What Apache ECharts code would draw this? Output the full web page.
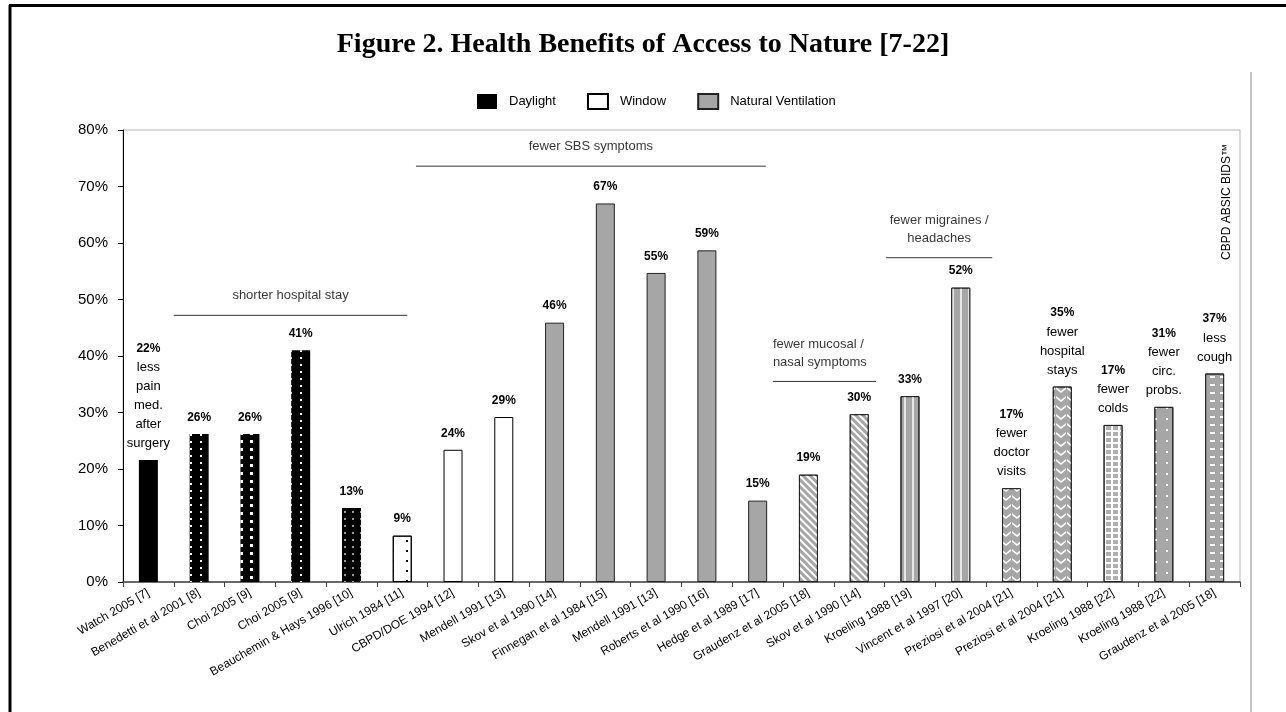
<!DOCTYPE html>
<html>
<head>
<meta charset="utf-8">
<script src="https://cdn.jsdelivr.net/npm/echarts@6/dist/echarts.min.js"></script>
<style>
html,body{margin:0;padding:0;background:#fff;}
#chart{width:1286px;height:712px;}
</style>
</head>
<body>
<div id="chart"></div>
<script>
// ---------------- DATA ----------------
const categories = [
  'Watch 2005 [7]', 'Benedetti et al 2001 [8]', 'Choi 2005 [9]', 'Choi 2005 [9]',
  'Beauchemin & Hays 1996 [10]', 'Ulrich 1984 [11]', 'CBPD/DOE 1994 [12]', 'Mendell 1991 [13]',
  'Skov et al 1990 [14]', 'Finnegan et al 1984 [15]', 'Mendell 1991 [13]', 'Roberts et al 1990 [16]',
  'Hedge et al 1989 [17]', 'Graudenz et al 2005 [18]', 'Skov et al 1990 [14]', 'Kroeling 1988 [19]',
  'Vincent et al 1997 [20]', 'Preziosi et al 2004 [21]', 'Preziosi et al 2004 [21]', 'Kroeling 1988 [22]',
  'Kroeling 1988 [22]', 'Graudenz et al 2005 [18]'
];
const values = [21.6, 26.2, 26.2, 41.0, 13.1, 8.2, 23.4, 29.2, 45.9, 67.0, 54.7, 58.7,
                14.4, 19.0, 29.7, 32.9, 52.1, 16.6, 34.6, 27.8, 31.0, 36.9];
const percentLabels = ['22%','26%','26%','41%','13%','9%','24%','29%','46%','67%','55%','59%',
                       '15%','19%','30%','33%','52%','17%','35%','17%','31%','37%'];
const notes = ['less\npain\nmed.\nafter\nsurgery','','','','','','','','','','','',
               '','','','','','fewer\ndoctor\nvisits','fewer\nhospital\nstays','fewer\ncolds',
               'fewer\ncirc.\nprobs.','less\ncough'];
const seriesNames = ['Daylight', 'Window', 'Natural Ventilation'];
const seriesOf = ['Daylight','Daylight','Daylight','Daylight','Daylight',
                  'Window','Window','Window',
                  'Natural Ventilation','Natural Ventilation','Natural Ventilation','Natural Ventilation',
                  'Natural Ventilation','Natural Ventilation','Natural Ventilation','Natural Ventilation',
                  'Natural Ventilation','Natural Ventilation','Natural Ventilation','Natural Ventilation',
                  'Natural Ventilation','Natural Ventilation'];
// group brackets (x in category units, y in %)
const groupTexts = ['shorter hospital stay', 'fewer SBS symptoms', 'fewer mucosal /\nnasal symptoms', 'fewer migraines /\nheadaches'];
const groupFrom = [1.0, 5.77, 12.8, 15.03];
const groupTo = [5.6, 12.66, 14.83, 17.12];
const groupLevel = [47.2, 73.6, 35.5, 57.4];
const groupAlign = ['center', 'center', 'left', 'center'];
const yTicks = [0, 10, 20, 30, 40, 50, 60, 70, 80];

// ---------------- STYLES ----------------
const FONT = 'Liberation Sans, Arial, sans-serif';
const GRAY = '#a6a6a6';
const baseStyle = {
  'Daylight': {color: '#000', borderColor: '#000', borderWidth: 0},
  'Window': {color: '#fff', borderColor: '#000', borderWidth: 1},
  'Natural Ventilation': {color: GRAY, borderColor: '#222', borderWidth: 1}
};
const decals = {
  1: {symbol: 'rect', symbolSize: 1, color: '#fff', dashArrayX: [2, 8], dashArrayY: [2, 5]},
  2: {symbol: 'rect', symbolSize: 1, color: '#fff', dashArrayX: [3, 7], dashArrayY: [3, 5]},
  3: {symbol: 'rect', symbolSize: 1, color: '#fff', dashArrayX: [2, 8], dashArrayY: [2, 5]},
  4: {symbol: 'rect', symbolSize: 1, color: '#999', dashArrayX: [2, 6], dashArrayY: [2, 5]},
  5: {symbol: 'rect', symbolSize: 1, color: '#000', dashArrayX: [2, 12], dashArrayY: [2, 8]},
  13: {symbol: 'rect', symbolSize: 1, color: '#fff', dashArrayX: [1, 0], dashArrayY: [2, 3], rotation: Math.PI / 4},
  14: {symbol: 'rect', symbolSize: 1, color: '#fff', dashArrayX: [1, 0], dashArrayY: [2, 3], rotation: Math.PI / 4},
  15: {symbol: 'rect', symbolSize: 1, color: '#e6e6e6', dashArrayX: [2, 6], dashArrayY: [1, 0]},
  16: {symbol: 'rect', symbolSize: 1, color: '#e6e6e6', dashArrayX: [2, 6], dashArrayY: [1, 0]},
  17: {symbol: 'path://M0,0L5,4L10,0L10,2L5,6L0,2Z', symbolSize: 1, color: '#fff', dashArrayX: [10, 0.01], dashArrayY: [6, 3]},
  18: {symbol: 'path://M0,0L5,4L10,0L10,2L5,6L0,2Z', symbolSize: 1, color: '#fff', dashArrayX: [10, 0.01], dashArrayY: [6, 3]},
  20: {symbol: 'rect', symbolSize: 1, color: '#fff', dashArrayX: [1.5, 9], dashArrayY: [2, 9]},
  21: {symbol: 'rect', symbolSize: 1, color: '#fff', dashArrayX: [5, 5], dashArrayY: [2, 6]}
};
const specialColor = {19: '#fff'};
const gridDecal19 = {symbol: 'rect', symbolSize: 1, color: '#b0b0b0', dashArrayX: [5, 2], dashArrayY: [4, 2]};

function itemStyleFor(i) {
  const s = Object.assign({}, baseStyle[seriesOf[i]]);
  if (decals[i]) s.decal = decals[i];
  if (i === 19) { s.color = specialColor[19]; s.decal = gridDecal19; }
  return s;
}

function labelFormatter(p) {
  const i = p.dataIndex;
  let s = '{p|' + percentLabels[i] + '}';
  if (notes[i]) s += '\n' + notes[i].split('\n').map(t => '{n|' + t + '}').join('\n');
  return s;
}

const barSeries = seriesNames.map(name => ({
  name: name,
  type: 'bar',
  barWidth: 19,
  barGap: '-100%',
  xAxisIndex: 0,
  yAxisIndex: 0,
  itemStyle: Object.assign({}, baseStyle[name]),
  label: {
    show: true, position: 'top', distance: 7, formatter: labelFormatter,
    rich: {
      p: {fontFamily: FONT, fontWeight: 'bold', fontSize: 12, lineHeight: 19, color: '#000', align: 'center'},
      n: {fontFamily: FONT, fontSize: 13, lineHeight: 19, color: '#000', align: 'center'}
    }
  },
  data: values.map((v, i) => seriesOf[i] === name ? {value: v, itemStyle: itemStyleFor(i)} : '-')
}));

const groupLineSeries = groupTexts.map((t, g) => ({
  type: 'line',
  xAxisIndex: 1, yAxisIndex: 0,
  symbol: 'none', silent: true,
  lineStyle: {color: '#333', width: 1},
  data: [[groupFrom[g], groupLevel[g]], [groupTo[g], groupLevel[g]]],
  z: 5
}));

const groupTextSeries = groupTexts.map((t, g) => ({
  type: 'scatter',
  xAxisIndex: 1, yAxisIndex: 0,
  symbolSize: 1, silent: true,
  itemStyle: {color: 'rgba(0,0,0,0)'},
  label: {
    show: true, position: 'top', distance: 10,
    formatter: t,
    align: groupAlign[g],
    fontFamily: FONT, fontSize: 13, lineHeight: 18, color: '#000'
  },
  labelLayout: {hideOverlap: false},
  data: [[groupAlign[g] === 'left' ? groupFrom[g] : (groupFrom[g] + groupTo[g]) / 2, groupLevel[g]]],
  z: 6
}));

const chart = echarts.init(document.getElementById('chart'), null, {renderer: 'canvas'});
chart.setOption({
  backgroundColor: '#fff',
  animation: false,
  title: {
    text: 'Figure 2. Health Benefits of Access to Nature [7-22]',
    left: 'center', top: 26,
    textStyle: {fontFamily: 'Liberation Serif, Times New Roman, serif', fontWeight: 'bold', fontSize: 28, color: '#000'}
  },
  legend: {
    data: seriesNames,
    left: 477, top: 93, padding: 0,
    itemWidth: 20, itemHeight: 15, itemGap: 31,
    icon: 'rect',
    textStyle: {fontFamily: FONT, fontSize: 13, color: '#000', padding: [0, 0, 0, 7]}
  },
  grid: {
    left: 123, right: 46, top: 130, bottom: 130,
    show: true, borderColor: '#b5b5b5', borderWidth: 1, backgroundColor: 'transparent'
  },
  xAxis: [{
    type: 'category',
    data: categories,
    axisLine: {lineStyle: {color: '#444', width: 1.5}},
    axisTick: {show: true, length: 5, lineStyle: {color: '#444'}},
    axisLabel: {interval: 0, rotate: 30, margin: 10, fontFamily: FONT, fontSize: 12, color: '#000'},
    splitLine: {show: false}
  }, {
    type: 'value', min: 0, max: categories.length, show: false
  }],
  yAxis: {
    type: 'value', min: yTicks[0], max: yTicks[yTicks.length - 1], interval: 10,
    axisLine: {show: true, lineStyle: {color: '#000', width: 1}},
    axisTick: {show: true, length: 5, lineStyle: {color: '#000'}},
    axisLabel: {formatter: '{value}%', margin: 15, fontFamily: FONT, fontSize: 15, color: '#000'},
    splitLine: {show: false}
  },
  graphic: [
    {type: 'line', shape: {x1: 10, y1: 5, x2: 10, y2: 712}, style: {stroke: '#000', lineWidth: 3}},
    {type: 'line', shape: {x1: 9, y1: 5.5, x2: 1286, y2: 5.5}, style: {stroke: '#000', lineWidth: 3}},
    {type: 'line', shape: {x1: 1251, y1: 72, x2: 1251, y2: 712}, style: {stroke: '#b0b0b0', lineWidth: 1.5}},
    {type: 'text', x: 1227, y: 202, rotation: Math.PI / 2,
     style: {text: 'CBPD ABSIC BIDS™', fontFamily: FONT, fontSize: 12, fill: '#000', align: 'center', verticalAlign: 'middle'}}
  ],
  series: barSeries.concat(groupLineSeries, groupTextSeries)
});
</script>
</body>
</html>
